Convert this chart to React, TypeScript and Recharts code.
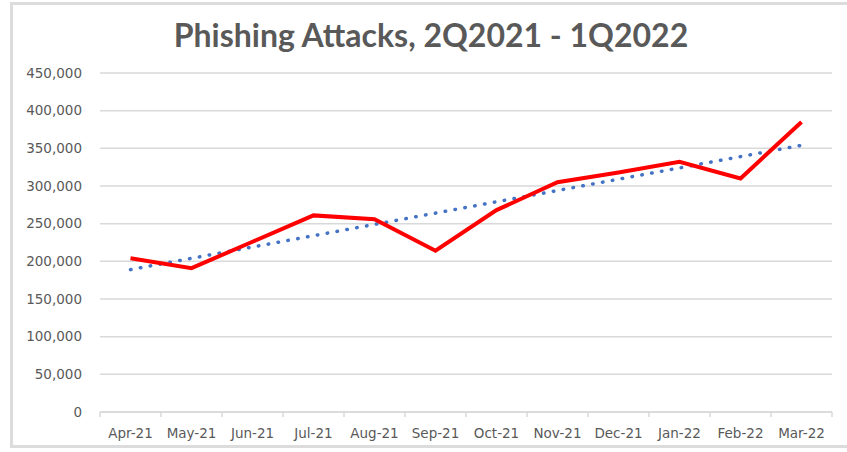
import { CartesianGrid, Line, LineChart, ReferenceLine, XAxis, YAxis } from 'recharts'

const meses = ['Apr-21', 'May-21', 'Jun-21', 'Jul-21', 'Aug-21', 'Sep-21', 'Oct-21', 'Nov-21', 'Dec-21', 'Jan-22', 'Feb-22', 'Mar-22']
const ataques = [204000, 191000, 226000, 261000, 256000, 214000, 268000, 305000, 318000, 332000, 310000, 385000]
// linear trend, first and last month
const tendencia = [189000, 354000]
const ticksY = [0, 50000, 100000, 150000, 200000, 250000, 300000, 350000, 400000, 450000]

const datos = meses.map((mes, i) => ({ mes, ataques: ataques[i] }))

const gris = '#595959'
const lineaEje = '#d9d9d9'
const fuente = '"DejaVu Sans", sans-serif'
const medioPaso = 30.5
const margenTick = 16

// Excel-style: tick marks between categories, label at the center
function TickMes(props: any) {
  const { x, y, payload, index } = props
  const ejeY = y - margenTick
  return (
    <g>
      <line x1={x - medioPaso} x2={x - medioPaso} y1={ejeY} y2={ejeY + 5} stroke={lineaEje} strokeWidth={1.5} />
      {index === meses.length - 1 && (
        <line x1={x + medioPaso} x2={x + medioPaso} y1={ejeY} y2={ejeY + 5} stroke={lineaEje} strokeWidth={1.5} />
      )}
      <text x={x} y={y} dy="0.75em" textAnchor="middle" fill={gris} fontSize={13.5} fontFamily={fuente}>
        {payload.value}
      </text>
    </g>
  )
}

export default function App() {
  return (
    <div style={{ position: 'absolute', left: 0, top: 0, width: 847, height: 452, overflow: 'hidden', background: '#fff' }}>
      <div
        style={{
          position: 'absolute',
          top: 15,
          left: 0,
          width: 862,
          textAlign: 'center',
          fontFamily: 'Lato, sans-serif',
          fontWeight: 700,
          fontSize: 32,
          color: gris,
        }}
      >
        Phishing Attacks, 2Q2021 - 1Q2022
      </div>
      <div style={{ position: 'absolute', left: 0, top: 0 }}>
        <LineChart width={847} height={452} data={datos} margin={{ top: 73, right: 15, bottom: 10, left: 10 }}>
          <CartesianGrid vertical={false} stroke={lineaEje} strokeWidth={1.5} />
          <XAxis
            dataKey="mes"
            height={30}
            padding={{ left: medioPaso, right: medioPaso }}
            axisLine={{ stroke: lineaEje, strokeWidth: 1.5 }}
            tickLine={false}
            tickSize={0}
            tickMargin={margenTick}
            interval={0}
            tick={<TickMes />}
          />
          <YAxis
            width={90}
            domain={[0, 450000]}
            ticks={ticksY}
            axisLine={false}
            tickLine={false}
            tickMargin={12}
            tickFormatter={(v: number) => v.toLocaleString('en-US')}
            tick={{ fill: gris, fontSize: 13.5, fontFamily: fuente }}
          />
          <ReferenceLine
            segment={[
              { x: meses[0], y: tendencia[0] },
              { x: meses[meses.length - 1], y: tendencia[1] },
            ]}
            stroke="#4472c4"
            strokeWidth={3.5}
            strokeDasharray="0.5 9.5"
            strokeLinecap="round"
          />
          <Line
            dataKey="ataques"
            stroke="#ff0000"
            strokeWidth={4}
            dot={false}
            activeDot={false}
            isAnimationActive={false}
          />
        </LineChart>
      </div>
      {/* light frame: left, top and bottom edges only, the right one falls outside */}
      <div
        style={{
          position: 'absolute',
          left: 10,
          top: 2,
          width: 950,
          height: 440,
          borderLeft: '3px solid #dcdcdc',
          borderTop: '3px solid #dcdcdc',
          borderBottom: '3px solid #dcdcdc',
          pointerEvents: 'none',
        }}
      />
    </div>
  )
}
